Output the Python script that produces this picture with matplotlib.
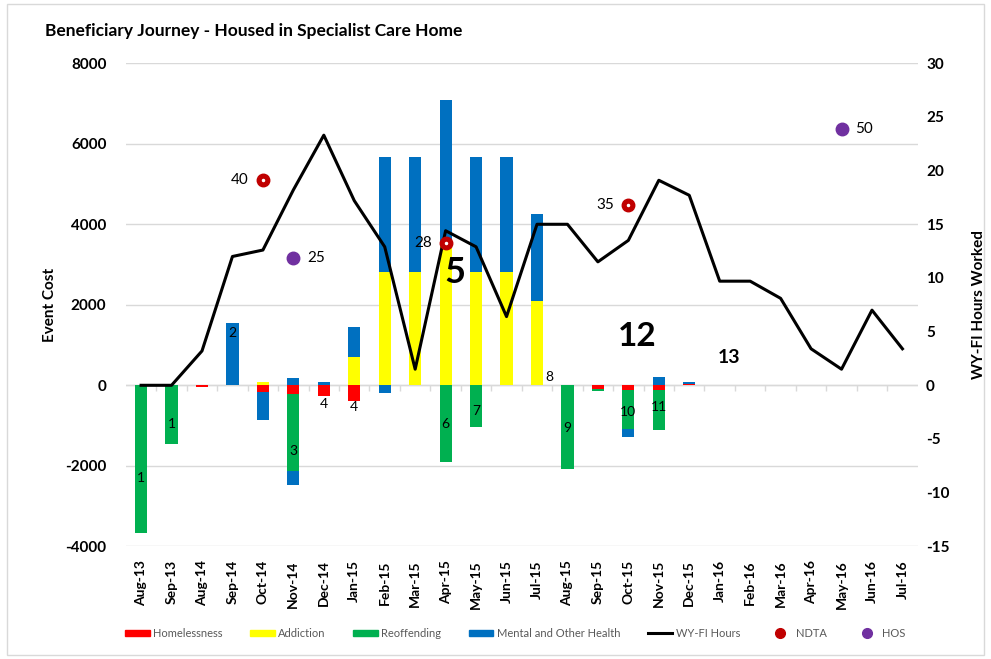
import matplotlib
matplotlib.use('Agg')
import matplotlib.pyplot as plt
import numpy as np
from matplotlib.patches import Patch, Rectangle
from matplotlib.lines import Line2D

plt.rcParams['font.family'] = ['Lato', 'DejaVu Sans']
plt.rcParams['axes.unicode_minus'] = False

# ---- data ----
months = ['Aug-13', 'Sep-13', 'Aug-14', 'Sep-14', 'Oct-14', 'Nov-14', 'Dec-14',
          'Jan-15', 'Feb-15', 'Mar-15', 'Apr-15', 'May-15', 'Jun-15', 'Jul-15',
          'Aug-15', 'Sep-15', 'Oct-15', 'Nov-15', 'Dec-15', 'Jan-16', 'Feb-16',
          'Mar-16', 'Apr-16', 'May-16', 'Jun-16', 'Jul-16']

homelessness = [0, 0, -30, 0, -170, -210, -265, -390, 0, 0, 0, 0, 0, 0,
                0, -100, -110, -110, 25, 0, 0, 0, 0, 0, 0, 0]
addiction = [0, 0, 0, 0, 80, 0, 0, 700, 2820, 2820, 3500, 2820, 2820, 2100,
             0, 0, 0, 0, 0, 0, 0, 0, 0, 0, 0, 0]
reoffending = [-3670, -1470, 0, 0, 0, -1920, 0, 0, 0, 0, -1900, -1040, 0, 0,
               -2070, -30, -970, -990, 0, 0, 0, 0, 0, 0, 0, 0]
mental_health = [0, 0, 0, 1540, 0, 170, 70, 750, 2860, 2860, 3590, 2860, 2860, 2150,
                 0, 0, 0, 210, 60, 0, 0, 0, 0, 0, 0, 0]
other_health = [0, 0, 0, 0, -680, -340, 0, 0, -200, 0, 0, 0, 0, 0,
                0, 0, -210, 0, 0, 0, 0, 0, 0, 0, 0, 0]

wyfi_hours = [0, 0, 3.2, 12.0, 12.6, 18.2, 23.3, 17.2, 12.9, 1.5, 14.4, 12.9, 6.4, 15.0,
              15.0, 11.5, 13.5, 19.1, 17.7, 9.7, 9.7, 8.1, 3.4, 1.5, 7.0, 3.4]

ndta_months = ['Oct-14', 'Apr-15', 'Oct-15']
ndta_level = [19.1, 13.3, 16.8]
ndta_labels = ['40', '28', '35']

hos_months = ['Nov-14', 'May-16']
hos_level = [11.9, 23.9]
hos_labels = ['25', '50']

# event numbers written on the bars
bar_note_months = ['Aug-13', 'Sep-13', 'Sep-14', 'Nov-14', 'Dec-14', 'Jan-15',
                   'Apr-15', 'May-15', 'Jul-15', 'Aug-15', 'Oct-15', 'Nov-15']
bar_note_y = [-2300, -960, 1290, -1620, -470, -550,
              -950, -630, 200, -1060, -670, -550]
bar_note_text = ['1', '1', '2', '3', '4', '4', '6', '7', '8', '9', '10', '11']

big_notes = [('Apr-15', 2800, '5', 26), ('Oct-15', 1200, '12', 24), ('Jan-16', 680, '13', 14)]

RED = '#FF0000'
YELLOW = '#FFFF00'
GREEN = '#00B050'
BLUE = '#0070C0'

fig = plt.figure(figsize=(9.91, 6.59), dpi=100)
ax = fig.add_axes([0.127, 0.171, 0.799, 0.733])
ax2 = ax.twinx()

x = np.arange(len(months))
pos_bottom = np.zeros(len(months))
neg_bottom = np.zeros(len(months))
for vals, col in [(homelessness, RED), (addiction, YELLOW), (reoffending, GREEN),
                  (mental_health, BLUE), (other_health, BLUE)]:
    v = np.array(vals, dtype=float)
    bottom = np.where(v >= 0, pos_bottom, neg_bottom)
    ax.bar(x, v, width=0.4, bottom=bottom, color=col, zorder=2)
    pos_bottom += np.where(v > 0, v, 0)
    neg_bottom += np.where(v < 0, v, 0)

ax.set_ylim(-4000, 8000)
ax.set_yticks(np.arange(-4000, 8001, 2000))
ax.set_xlim(-0.5, len(months) - 0.5)
ax.grid(axis='y', color='#D9D9D9', lw=1, zorder=0)
ax.set_axisbelow(True)
ax.axhline(0, color='#D9D9D9', lw=1, zorder=1)
ax.vlines(x[:-1] + 0.5, -130, 0, color='#D9D9D9', lw=1, zorder=1)
ax.set_xticks(x)
ax.set_xticklabels(months, rotation=90, fontsize=10, fontweight='bold')
ax.tick_params(axis='x', length=0, pad=10)
ax.tick_params(axis='y', length=0, pad=14)
for t in ax.get_yticklabels():
    t.set_fontsize(11)
    t.set_fontweight('bold')
ax.set_ylabel('Event Cost', fontsize=11, fontweight='bold', labelpad=6)
for s in ax.spines.values():
    s.set_visible(False)

ax2.plot(x, wyfi_hours, color='black', lw=2.2, zorder=3)
ax2.set_ylim(-15, 30)
ax2.set_yticks(np.arange(-15, 31, 5))
ax2.tick_params(axis='y', length=0, pad=6)
for t in ax2.get_yticklabels():
    t.set_fontsize(11)
    t.set_fontweight('bold')
ax2.set_ylabel('WY-FI Hours Worked', fontsize=11, fontweight='bold', labelpad=16)
for s in ax2.spines.values():
    s.set_visible(False)

for m, lv, lab in zip(ndta_months, ndta_level, ndta_labels):
    i = months.index(m)
    ax2.plot(i, lv, 'o', ms=9, color='#C00000', zorder=5)
    ax2.plot(i, lv, 'o', ms=1.5, color='white', zorder=6)
    ax2.annotate(lab, (i, lv), xytext=(-10, 0), textcoords='offset points',
                 ha='right', va='center', fontsize=11)

for m, lv, lab in zip(hos_months, hos_level, hos_labels):
    i = months.index(m)
    ax2.plot(i, lv, 'o', ms=9, color='#7030A0', zorder=5)
    ax2.annotate(lab, (i, lv), xytext=(10, 0), textcoords='offset points',
                 ha='left', va='center', fontsize=11)

for m, yv, txt in zip(bar_note_months, bar_note_y, bar_note_text):
    i = months.index(m)
    dx = 0.4 if txt == '8' else 0
    ax.text(i + dx, yv, txt, ha='center', va='center', fontsize=10, zorder=6)

for m, yv, txt, fs in big_notes:
    i = months.index(m)
    ax.text(i + 0.3, yv, txt, ha='center', va='center', fontsize=fs,
            fontweight='bold', zorder=6)

fig.text(0.045, 0.953, 'Beneficiary Journey - Housed in Specialist Care Home',
         fontsize=12.5, fontweight='bold', va='center')

handles = [Patch(color=RED), Patch(color=YELLOW), Patch(color=GREEN), Patch(color=BLUE),
           Line2D([], [], color='black', lw=2.2),
           Line2D([], [], marker='o', ls='', color='#C00000', ms=7),
           Line2D([], [], marker='o', ls='', color='#7030A0', ms=7)]
names = ['Homelessness', 'Addiction', 'Reoffending', 'Mental and Other Health',
         'WY-FI Hours', 'NDTA', 'HOS']
leg = fig.legend(handles, names, loc='center', bbox_to_anchor=(0.52, 0.039), ncol=7,
                 frameon=False, fontsize=8, handlelength=2.2, handleheight=0.5,
                 columnspacing=2.5, handletextpad=0.3)
for t in leg.get_texts():
    t.set_color('#595959')

fig.patches.append(Rectangle((0.007, 0.006), 0.986, 0.988, transform=fig.transFigure,
                             fill=False, edgecolor='#D9D9D9', lw=1))

fig.savefig('out.png', dpi=100)
